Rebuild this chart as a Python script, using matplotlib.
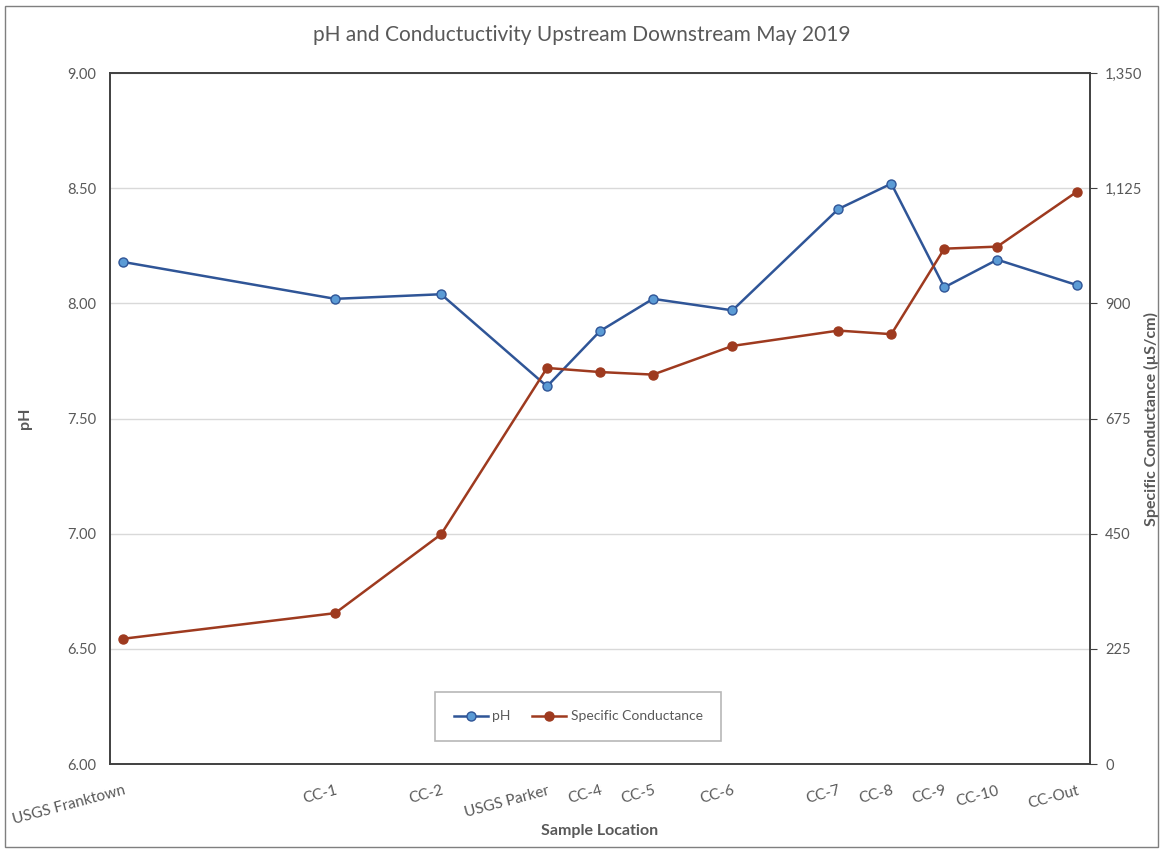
import matplotlib.pyplot as plt
from matplotlib.patches import Rectangle
from matplotlib.ticker import FuncFormatter

plt.rcParams['font.family'] = ['Lato', 'DejaVu Sans']

# Inputs
locations = ["USGS Franktown", "CC-1", "CC-2", "USGS Parker", "CC-4", "CC-5",
             "CC-6", "CC-7", "CC-8", "CC-9", "CC-10", "CC-Out"]
river_pos = [0, 8, 12, 16, 18, 20, 23, 27, 29, 31, 33, 36]  # position along the creek
ph = [8.18, 8.02, 8.04, 7.64, 7.88, 8.02, 7.97, 8.41, 8.52, 8.07, 8.19, 8.08]
conductance = [245, 295, 449, 774, 766, 761, 817, 847, 840, 1007, 1011, 1118]  # uS/cm

text_gray = "#595959"
axis_gray = "#404040"

fig = plt.figure(figsize=(11.63, 8.5), dpi=100)
fig.patches.append(Rectangle((0.004, 0.003), 0.992, 0.99, transform=fig.transFigure,
                             fill=False, edgecolor="#7f7f7f", linewidth=1))

ax = fig.add_axes([0.0946, 0.101, 0.8426, 0.813])
ax2 = ax.twinx()

l1, = ax.plot(river_pos, ph, color="#2F5597", linewidth=1.8, marker="o", markersize=6.5,
              markerfacecolor="#5B9BD5", markeredgecolor="#2F5597", markeredgewidth=1, label="pH")
l2, = ax2.plot(river_pos, conductance, color="#9E3A1F", linewidth=1.8, marker="o", markersize=6.5,
               markerfacecolor="#9E3A1F", markeredgecolor="#9E3A1F", label="Specific Conductance")

ax.set_xlim(-0.5, 36.5)
ax.set_ylim(6.0, 9.0)
ax.set_yticks([6.0, 6.5, 7.0, 7.5, 8.0, 8.5, 9.0])
ax.yaxis.set_major_formatter(FuncFormatter(lambda v, p: f"{v:.2f}"))
ax2.set_ylim(0, 1350)
ax2.set_yticks([0, 225, 450, 675, 900, 1125, 1350])
ax2.yaxis.set_major_formatter(FuncFormatter(lambda v, p: f"{int(v):,}"))

ax.grid(axis="y", color="#D9D9D9", linewidth=1)
ax.set_axisbelow(True)

ax.set_xticks(river_pos)
ax.set_xticklabels(locations, rotation=15, ha="right", rotation_mode="anchor")
ax.tick_params(axis="x", length=0, pad=14, labelsize=11, labelcolor=text_gray)
ax.tick_params(axis="y", length=0, pad=10, labelsize=10.5, labelcolor=text_gray)
ax2.tick_params(axis="y", length=5, direction="out", color=axis_gray, pad=6,
                labelsize=10.5, labelcolor=text_gray)

for a in (ax, ax2):
    for s in a.spines.values():
        s.set_color(axis_gray)
        s.set_linewidth(1.2)

ax.set_xlabel("Sample Location", fontsize=11.5, fontweight="bold", color=text_gray)
ax.xaxis.set_label_coords(0.5, -0.087)
ax.set_ylabel("pH", fontsize=11.5, fontweight="bold", color=text_gray)
ax.yaxis.set_label_coords(-0.0796, 0.5)
ax2.set_ylabel("Specific Conductance (µS/cm)", fontsize=11.5, fontweight="bold", color=text_gray)
ax2.yaxis.set_label_coords(1.055, 0.5)

fig.text(0.5, 0.959, "pH and Conductuctivity Upstream Downstream May 2019",
         ha="center", va="center", fontsize=15, color=text_gray)

leg = ax.legend(handles=[l1, l2], loc="center", bbox_to_anchor=(0.4776, 0.069),
                ncol=2, fontsize=10, frameon=True, fancybox=False,
                borderpad=1.3, handlelength=2.5, columnspacing=1.5, handletextpad=0.3)
leg.get_frame().set_edgecolor("#A6A6A6")
leg.get_frame().set_linewidth(1.2)
for t in leg.get_texts():
    t.set_color(text_gray)

fig.savefig("out.png", dpi=100)
